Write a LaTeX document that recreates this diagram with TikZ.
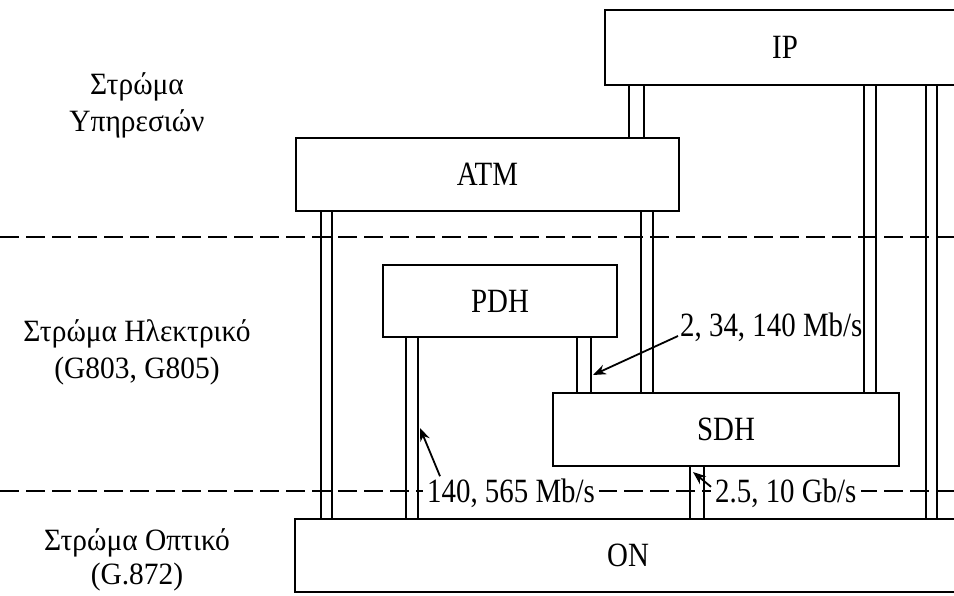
\documentclass[tikz,border=0pt]{standalone}
\usepackage{fontspec}
\setmainfont{Liberation Serif}
\newfontfamily\condfont[FakeStretch=0.85]{Liberation Serif}
\newfontfamily\lblfont[FakeStretch=0.95]{Liberation Serif}
\usetikzlibrary{arrows.meta,backgrounds}

\begin{document}
\begin{tikzpicture}[x=1pt,y=-1pt,
  box/.style={draw, line width=2.6pt, fill=white, inner sep=0pt,
    font=\condfont\fontsize{34}{36}\selectfont},
  pillar/.style={line width=2.5pt, draw=black, double=white, double distance=#1},
  layerline/.style={dash pattern=on 19pt off 7pt, line width=2.6pt},
  lbl/.style={anchor=base, inner sep=0pt, font=\lblfont\fontsize{31}{35}\selectfont},
  rate/.style={anchor=base west, inner xsep=4pt, inner ysep=2pt,
    font=\condfont\fontsize{34}{36}\selectfont},
  ptr/.style={-{Stealth[length=13pt,width=10pt]}, line width=1.8pt}]

\useasboundingbox (0,0) rectangle (954,595);
\clip (0,0) rectangle (954,595);

% boxes
\node[box, minimum width=360pt, minimum height=75pt] (ip)  at (785,47.5)  {IP};
\node[box, minimum width=383pt, minimum height=73pt] (atm) at (487.5,174.5) {ATM};
\node[box, minimum width=234pt, minimum height=72pt] (pdh) at (500,301)   {PDH};
\node[box, minimum width=346pt, minimum height=73pt] (sdh) at (726,429.5) {SDH};
\node[box, minimum width=666pt, minimum height=73pt] (on)  at (628,555.5) {ON};

% pillar x positions
\coordinate (x1) at (636.5,0);
\coordinate (x2) at (870,0);
\coordinate (x3) at (931.5,0);
\coordinate (x4) at (326.5,0);
\coordinate (x5) at (647,0);
\coordinate (x6) at (412,0);
\coordinate (x7) at (584,0);
\coordinate (x8) at (697,0);

\begin{scope}[on background layer]
  \draw[pillar=12.5pt] (x1 |- ip.south)  -- (x1 |- atm.north);
  \draw[pillar=9.5pt]  (x2 |- ip.south)  -- (x2 |- sdh.north);
  \draw[pillar=8.5pt]  (x3 |- ip.south)  -- (x3 |- on.north);
  \draw[pillar=8.5pt]  (x4 |- atm.south) -- (x4 |- on.north);
  \draw[pillar=9.5pt]  (x5 |- atm.south) -- (x5 |- sdh.north);
  \draw[pillar=9.5pt]  (x6 |- pdh.south) -- (x6 |- on.north);
  \draw[pillar=11.5pt] (x7 |- pdh.south) -- (x7 |- sdh.north);
  \draw[pillar=11.5pt] (x8 |- sdh.south) -- (x8 |- on.north);
\end{scope}

% layer separators
\coordinate (d1l) at (0,237);
\coordinate (d1r) at (954,237);
\coordinate (d2l) at (0,491);
\coordinate (d2r) at (954,491);
\draw[layerline] (d1l) -- (d1r);
\draw[layerline] (d2l) -- (d2r);

% layer labels
\node[lbl] (s1a) at (137,94)  {Στρώμα};
\node[lbl] (s1b) at (137,131) {Υπηρεσιών};
\node[lbl] (s2a) at (137,341) {Στρώμα Ηλεκτρικό};
\node[lbl] (s2b) at (137,378) {(G803, G805)};
\node[lbl] (s3a) at (137,550) {Στρώμα Οπτικό};
\node[lbl] (s3b) at (137,584) {(G.872)};

% rate labels
\node[rate, inner sep=0pt] (r1) at (680,336) {2, 34, 140 Mb/s};
\node[rate, fill=white] (r2) at (423,502) {140, 565 Mb/s};
\node[rate, fill=white] (r3) at (711,502) {2.5, 10 Gb/s};

% pointers
\coordinate (a1) at (593,375);
\coordinate (a2) at (420,428);
\coordinate (a3) at (693,472);
\draw[ptr] ([xshift=-2pt]r1.base west) -- (a1);
\draw[ptr] ([xshift=17pt]r2.north west) -- (a2);
\draw[ptr] ([yshift=6pt]r3.west) -- (a3);
\end{tikzpicture}
\end{document}
